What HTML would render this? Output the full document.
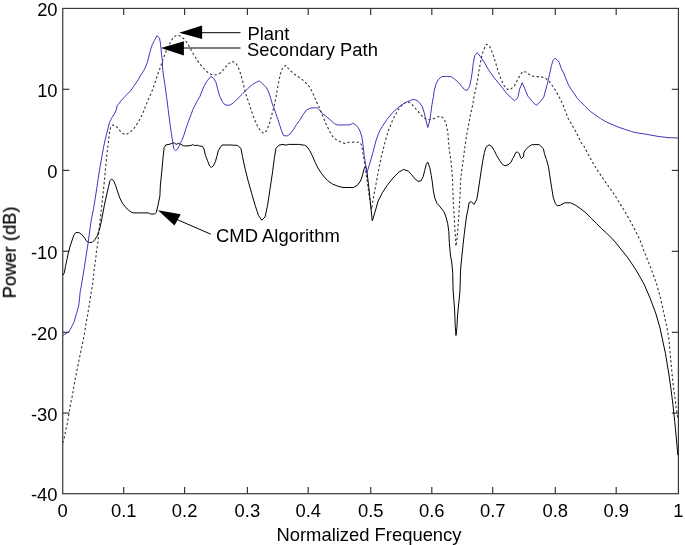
<!DOCTYPE html>
<html><head><meta charset="utf-8"><style>
html,body{margin:0;padding:0;background:#fff;}
svg{display:block;}
text{font-family:"Liberation Sans",sans-serif;font-size:18.4px;fill:#000;}
.t{filter:grayscale(1);}
</style></head><body>
<svg width="685" height="545" viewBox="0 0 685 545">
<rect x="62.74" y="8.42" width="615.66" height="485.28" fill="none" stroke="#383838" stroke-width="1.2"/>
<line x1="123.70" y1="493.7" x2="123.70" y2="487.10" stroke="#383838" stroke-width="1.2"/>
<line x1="123.70" y1="8.42" x2="123.70" y2="15.02" stroke="#383838" stroke-width="1.2"/>
<line x1="184.60" y1="493.7" x2="184.60" y2="487.10" stroke="#383838" stroke-width="1.2"/>
<line x1="184.60" y1="8.42" x2="184.60" y2="15.02" stroke="#383838" stroke-width="1.2"/>
<line x1="247.40" y1="493.7" x2="247.40" y2="487.10" stroke="#383838" stroke-width="1.2"/>
<line x1="247.40" y1="8.42" x2="247.40" y2="15.02" stroke="#383838" stroke-width="1.2"/>
<line x1="308.20" y1="493.7" x2="308.20" y2="487.10" stroke="#383838" stroke-width="1.2"/>
<line x1="308.20" y1="8.42" x2="308.20" y2="15.02" stroke="#383838" stroke-width="1.2"/>
<line x1="370.70" y1="493.7" x2="370.70" y2="487.10" stroke="#383838" stroke-width="1.2"/>
<line x1="370.70" y1="8.42" x2="370.70" y2="15.02" stroke="#383838" stroke-width="1.2"/>
<line x1="431.80" y1="493.7" x2="431.80" y2="487.10" stroke="#383838" stroke-width="1.2"/>
<line x1="431.80" y1="8.42" x2="431.80" y2="15.02" stroke="#383838" stroke-width="1.2"/>
<line x1="492.70" y1="493.7" x2="492.70" y2="487.10" stroke="#383838" stroke-width="1.2"/>
<line x1="492.70" y1="8.42" x2="492.70" y2="15.02" stroke="#383838" stroke-width="1.2"/>
<line x1="555.30" y1="493.7" x2="555.30" y2="487.10" stroke="#383838" stroke-width="1.2"/>
<line x1="555.30" y1="8.42" x2="555.30" y2="15.02" stroke="#383838" stroke-width="1.2"/>
<line x1="616.20" y1="493.7" x2="616.20" y2="487.10" stroke="#383838" stroke-width="1.2"/>
<line x1="616.20" y1="8.42" x2="616.20" y2="15.02" stroke="#383838" stroke-width="1.2"/>
<line x1="62.74" y1="413.10" x2="69.34" y2="413.10" stroke="#383838" stroke-width="1.2"/>
<line x1="678.4" y1="413.10" x2="671.80" y2="413.10" stroke="#383838" stroke-width="1.2"/>
<line x1="62.74" y1="332.30" x2="69.34" y2="332.30" stroke="#383838" stroke-width="1.2"/>
<line x1="678.4" y1="332.30" x2="671.80" y2="332.30" stroke="#383838" stroke-width="1.2"/>
<line x1="62.74" y1="251.30" x2="69.34" y2="251.30" stroke="#383838" stroke-width="1.2"/>
<line x1="678.4" y1="251.30" x2="671.80" y2="251.30" stroke="#383838" stroke-width="1.2"/>
<line x1="62.74" y1="170.40" x2="69.34" y2="170.40" stroke="#383838" stroke-width="1.2"/>
<line x1="678.4" y1="170.40" x2="671.80" y2="170.40" stroke="#383838" stroke-width="1.2"/>
<line x1="62.74" y1="89.30" x2="69.34" y2="89.30" stroke="#383838" stroke-width="1.2"/>
<line x1="678.4" y1="89.30" x2="671.80" y2="89.30" stroke="#383838" stroke-width="1.2"/>
<path d="M62.7,443.0 L64.2,438.1 L66.0,429.0 L67.6,422.0 L68.8,414.3 L69.7,408.8 L71.1,401.4 L72.4,395.5 L75.0,380.0 L79.0,360.0 L83.0,340.9 L84.8,331.7 L86.2,322.5 L87.6,315.2 L88.9,306.9 L90.2,299.0 L91.1,293.1 L92.5,284.9 L93.4,277.5 L94.3,268.3 L95.7,259.2 L96.6,250.0 L97.7,244.9 L98.7,232.8 L100.2,219.9 L101.3,209.3 L102.3,201.1 L103.4,190.8 L104.4,180.6 L105.4,170.3 L106.4,160.0 L107.5,149.1 L108.5,140.8 L109.5,132.6 L110.6,127.5 L113.1,124.9 L115.7,125.9 L118.8,129.5 L121.9,133.1 L125.5,134.7 L129.1,133.1 L133.2,129.5 L136.2,125.4 L139.3,120.3 L142.6,114.0 L145.5,106.2 L148.6,99.1 L151.7,91.9 L154.7,83.6 L157.3,75.4 L160.3,67.6 L163.2,58.8 L165.0,54.0 L167.5,48.0 L169.8,43.4 L172.8,38.3 L176.4,35.3 L178.5,35.2 L180.8,36.4 L184.5,39.4 L187.4,43.4 L190.0,47.8 L191.8,51.5 L194.8,55.9 L197.0,59.9 L199.1,63.2 L203.2,67.8 L207.3,72.0 L211.4,74.5 L215.6,75.0 L219.7,73.5 L223.8,69.4 L227.9,64.2 L232.0,61.4 L235.6,62.7 L238.2,67.3 L240.2,72.5 L242.3,79.7 L243.8,85.8 L245.4,93.0 L247.4,98.5 L249.3,104.0 L251.2,110.3 L254.2,118.5 L257.3,125.7 L260.4,130.8 L263.5,133.4 L266.6,130.8 L269.7,122.6 L272.2,113.4 L274.3,105.1 L275.8,98.2 L277.4,88.9 L278.9,80.7 L280.5,73.5 L282.5,68.4 L285.6,65.3 L288.2,68.4 L292.3,72.5 L296.4,75.6 L300.5,78.1 L304.6,81.7 L308.7,85.8 L311.8,91.0 L314.1,96.0 L316.2,101.2 L318.7,106.3 L321.3,112.5 L323.4,117.6 L325.9,123.8 L328.5,128.9 L331.1,134.1 L333.6,137.7 L337.7,140.7 L344.5,143.4 L349.1,142.3 L354.2,142.1 L359.8,142.3 L361.5,145.0 L364.0,159.0 L367.0,180.0 L369.5,198.0 L371.5,209.4 L374.0,194.5 L376.5,181.3 L379.0,168.0 L381.4,156.5 L384.7,143.3 L388.2,131.1 L392.9,119.4 L398.8,108.8 L403.0,104.0 L407.0,101.8 L410.5,102.9 L415.0,108.0 L419.1,112.6 L423.2,117.2 L427.3,119.8 L432.0,119.3 L436.6,117.2 L440.7,116.2 L444.3,118.8 L446.3,124.9 L447.9,133.2 L448.7,143.4 L449.3,150.0 L450.9,160.3 L451.9,170.6 L452.6,180.8 L452.9,191.1 L453.5,206.0 L454.3,217.0 L454.8,228.0 L455.6,239.0 L455.9,246.2 L457.0,239.0 L457.9,228.0 L458.7,217.0 L459.4,206.0 L460.0,195.0 L460.6,180.8 L461.7,170.6 L463.2,160.3 L464.5,150.0 L466.4,136.2 L468.4,126.0 L470.5,114.7 L472.6,105.4 L474.1,96.2 L475.6,90.0 L477.3,81.2 L479.3,68.9 L481.4,57.6 L483.4,50.4 L486.5,44.2 L489.6,46.3 L492.7,53.5 L495.3,61.7 L497.8,69.9 L499.9,76.1 L501.2,79.7 L504.2,85.8 L507.3,89.4 L510.4,89.4 L514.5,85.8 L518.6,77.6 L522.7,71.4 L525.8,72.0 L529.9,75.0 L534.1,76.6 L540.2,76.6 L545.4,78.1 L549.5,81.7 L554.6,88.9 L558.7,96.1 L562.8,104.3 L568.0,118.0 L576.0,132.0 L581.0,142.3 L584.1,146.4 L587.6,153.4 L591.7,160.6 L595.8,167.7 L599.9,173.9 L604.0,180.0 L614.0,194.0 L624.0,210.0 L632.0,224.0 L640.0,240.0 L644.0,251.0 L650.0,266.0 L656.0,282.0 L660.0,296.0 L664.0,314.0 L667.0,328.0 L669.0,340.0 L670.9,362.0 L673.1,384.0 L674.7,395.6 L676.2,408.0 L677.8,419.0" fill="none" stroke="#333" stroke-width="1.1" stroke-dasharray="2.3,2.3" stroke-linejoin="round"/>
<path d="M62.9,275.2 L64.4,272.7 L65.4,266.7 L66.9,259.8 L68.4,252.8 L69.9,246.9 L71.9,240.9 L73.9,235.0 L75.9,232.5 L78.8,232.5 L81.8,234.5 L84.8,238.4 L86.8,241.4 L89.3,242.4 L92.2,242.4 L94.7,239.9 L97.2,236.0 L98.7,231.5 L99.7,228.8 L101.7,219.9 L102.3,216.0 L104.4,205.2 L106.4,196.0 L108.5,186.7 L110.0,180.6 L111.6,179.0 L113.6,180.6 L115.7,185.7 L117.7,191.9 L119.8,198.0 L122.4,203.2 L126.0,207.8 L130.1,211.4 L133.2,212.9 L141.4,212.9 L148.6,212.9 L150.6,214.0 L154.7,214.0 L156.3,212.4 L157.8,206.2 L159.9,196.0 L160.3,186.0 L161.3,176.2 L162.3,166.0 L163.2,155.7 L164.2,147.5 L165.9,144.9 L169.0,144.4 L172.1,143.4 L174.2,142.8 L176.2,144.4 L178.3,143.4 L180.8,144.4 L183.9,145.9 L188.0,145.9 L191.1,145.4 L192.7,144.6 L194.7,145.6 L197.3,145.2 L199.3,145.9 L202.4,146.4 L204.0,149.0 L205.5,155.7 L207.6,160.8 L209.6,166.0 L211.2,167.5 L213.2,166.0 L215.3,161.9 L216.8,156.7 L218.3,150.6 L219.9,148.0 L222.0,145.0 L230.0,145.0 L237.5,145.4 L240.9,148.4 L242.5,156.7 L245.0,168.4 L248.4,181.8 L251.7,193.5 L255.1,205.2 L258.4,215.2 L261.8,220.2 L265.1,216.9 L267.6,205.2 L270.1,188.5 L272.6,171.8 L274.3,158.4 L276.0,148.4 L278.9,145.2 L283.0,144.4 L286.1,145.2 L288.2,144.4 L298.4,144.4 L304.6,145.2 L307.1,146.7 L309.6,150.3 L312.2,155.4 L315.3,162.6 L318.4,168.8 L322.5,174.9 L327.6,180.6 L332.7,184.2 L337.9,186.2 L343.0,187.5 L353.3,187.5 L357.4,185.2 L360.5,181.1 L362.6,174.9 L364.1,168.8 L365.6,166.2 L366.7,169.8 L367.7,178.0 L368.7,186.2 L369.7,196.0 L370.7,206.1 L372.3,220.9 L374.8,212.7 L378.1,201.1 L382.3,192.8 L387.2,185.4 L393.0,178.0 L398.8,172.2 L403.7,169.4 L408.2,171.1 L411.3,174.2 L414.4,178.3 L418.0,181.3 L421.1,180.8 L423.1,176.7 L424.7,170.6 L426.2,164.4 L427.7,162.1 L429.8,167.5 L431.3,175.7 L432.4,182.9 L433.4,191.1 L434.9,198.3 L437.0,203.4 L439.4,206.0 L443.8,211.5 L446.0,217.0 L447.7,223.6 L448.8,231.3 L449.3,242.3 L450.4,255.0 L451.7,262.0 L452.7,272.3 L453.1,290.0 L454.6,309.8 L455.2,325.3 L456.0,335.5 L456.9,327.7 L457.5,315.8 L458.7,303.8 L459.9,291.9 L460.3,280.0 L460.5,270.3 L461.3,262.0 L462.0,255.0 L463.1,244.5 L464.2,234.6 L465.3,225.8 L466.4,217.0 L468.0,209.3 L469.1,202.7 L471.3,201.6 L474.1,204.4 L476.8,199.4 L478.2,191.0 L479.8,180.2 L481.3,169.9 L482.8,160.7 L484.4,152.5 L485.9,147.3 L489.0,144.8 L491.6,146.3 L494.2,150.4 L496.7,155.6 L499.8,160.7 L502.4,164.3 L504.9,165.8 L508.0,164.8 L511.1,162.2 L512.7,158.6 L514.2,156.1 L515.7,152.5 L517.3,152.0 L519.3,153.5 L520.4,157.1 L521.4,158.6 L523.4,156.6 L524.0,152.0 L526.0,149.4 L528.6,146.8 L531.7,144.8 L534.1,144.6 L539.2,144.6 L543.4,148.7 L544.4,153.4 L546.4,159.5 L548.5,166.7 L549.5,173.9 L550.6,181.1 L551.6,187.3 L553.2,197.2 L555.3,203.4 L557.3,205.9 L560.4,205.2 L564.5,202.8 L570.7,202.8 L575.8,205.4 L581.0,209.0 L586.1,213.1 L591.2,218.3 L596.4,223.4 L601.5,228.5 L606.7,233.2 L611.8,238.3 L616.0,243.0 L620.0,248.0 L628.0,258.0 L636.0,270.0 L644.0,284.0 L650.0,298.0 L656.0,314.0 L660.0,328.0 L663.0,342.0 L665.4,353.2 L668.7,373.0 L670.9,388.4 L673.1,406.0 L674.7,421.4 L676.4,439.0 L677.8,455.0" fill="none" stroke="#000" stroke-width="1" stroke-linejoin="round"/>
<path d="M62.8,335.4 L65.1,334.0 L68.3,332.2 L70.6,329.0 L72.4,325.3 L74.3,321.6 L75.2,317.9 L76.6,313.3 L77.9,308.8 L78.9,304.2 L79.6,298.0 L80.1,292.2 L81.5,284.9 L82.8,276.6 L84.2,268.3 L85.6,259.2 L87.0,250.0 L88.3,241.7 L89.8,229.8 L91.3,219.9 L93.6,208.3 L95.1,199.1 L96.7,188.8 L98.2,178.5 L99.8,168.2 L101.3,160.0 L103.4,148.0 L104.9,140.8 L106.4,134.7 L108.0,128.5 L109.5,122.3 L111.6,118.2 L114.2,114.1 L116.2,110.0 L117.2,105.7 L120.8,101.1 L124.9,96.5 L130.1,91.3 L134.2,85.7 L138.3,79.5 L140.9,74.9 L143.4,71.3 L145.5,67.2 L147.6,61.5 L150.7,49.3 L152.2,44.9 L154.4,40.5 L157.0,35.7 L159.5,38.3 L160.6,44.2 L161.0,48.6 L161.7,55.9 L162.5,61.0 L162.4,66.0 L163.2,73.2 L164.9,84.8 L166.5,96.3 L168.2,109.5 L169.8,122.7 L171.5,134.3 L172.4,140.0 L173.1,144.2 L173.6,148.5 L175.7,150.6 L177.7,149.0 L179.8,144.4 L181.9,140.3 L183.9,135.1 L185.5,130.0 L188.0,122.7 L192.9,109.5 L197.0,101.3 L200.0,96.3 L201.2,93.0 L204.2,85.8 L207.3,80.7 L210.9,76.4 L213.5,78.1 L216.1,82.7 L217.6,88.9 L219.7,96.1 L222.2,101.2 L224.8,104.8 L228.9,105.4 L233.0,103.3 L237.1,99.2 L242.3,94.1 L247.4,88.9 L252.6,84.3 L256.3,82.2 L259.3,80.9 L262.5,83.8 L266.6,87.9 L268.6,92.0 L270.7,98.2 L272.7,105.4 L273.3,106.2 L275.8,113.4 L277.9,119.5 L279.9,125.7 L281.5,130.8 L283.5,135.5 L287.1,136.0 L290.2,133.9 L293.3,129.8 L296.4,124.7 L299.5,120.6 L302.6,115.4 L306.7,109.8 L310.8,108.0 L317.2,107.8 L320.3,110.9 L322.3,113.5 L326.4,116.6 L330.6,120.2 L334.7,123.8 L337.7,125.0 L343.9,125.0 L350.1,124.8 L352.7,123.3 L355.7,124.8 L358.3,127.9 L360.4,132.0 L361.9,137.1 L362.9,144.3 L364.1,154.9 L366.9,173.0 L369.9,163.1 L373.2,151.6 L375.8,141.2 L378.3,134.1 L379.9,130.5 L382.3,126.4 L387.0,119.4 L392.9,112.3 L398.8,107.0 L404.7,102.9 L410.5,100.3 L414.1,99.4 L417.0,100.5 L419.1,102.3 L422.2,106.4 L424.2,112.6 L425.8,119.8 L427.8,127.5 L429.9,119.8 L430.9,112.6 L432.0,104.4 L433.5,96.2 L434.1,91.0 L436.2,83.3 L438.7,79.2 L441.8,76.6 L446.4,76.4 L451.1,76.6 L454.7,79.2 L458.3,82.3 L461.3,85.9 L464.4,89.5 L467.0,90.5 L469.6,86.4 L471.1,79.2 L472.1,73.0 L473.2,63.8 L474.7,55.6 L477.3,52.7 L480.4,56.6 L484.5,62.7 L488.6,69.9 L493.7,77.1 L499.1,83.8 L503.2,88.9 L506.3,93.0 L510.4,97.1 L514.5,100.7 L517.6,98.2 L519.7,88.9 L522.2,82.7 L524.8,88.9 L527.9,96.1 L532.0,101.2 L536.1,105.4 L540.2,101.8 L543.8,97.1 L545.4,91.0 L547.4,83.8 L549.5,74.5 L551.5,65.3 L553.1,60.3 L555.1,58.2 L557.2,59.8 L559.2,62.3 L561.3,68.5 L563.9,73.6 L565.9,78.8 L568.5,84.9 L571.6,90.1 L574.7,94.2 L577.2,98.3 L580.8,101.9 L585.1,106.3 L590.3,111.4 L595.4,115.0 L600.6,118.6 L606.7,122.2 L612.9,124.8 L619.1,127.4 L625.2,129.4 L631.4,131.5 L637.6,133.0 L643.7,133.8 L658.0,136.4 L668.0,137.6 L678.0,138.0" fill="none" stroke="#4038bc" stroke-width="1.0" stroke-linejoin="round"/>
<polygon points="179.2,32.7 202.1,25.5 202.1,38.9" fill="#000"/>
<line x1="202" y1="32.7" x2="240.5" y2="32.7" stroke="#000" stroke-width="1"/>
<polygon points="161,48 183.9,41.2 183.9,55.5" fill="#000"/>
<line x1="183" y1="48" x2="240.5" y2="48" stroke="#000" stroke-width="1"/>
<polygon points="158,210.2 180.7,214.3 174.5,225.5" fill="#000"/>
<line x1="177" y1="219.5" x2="210.8" y2="234.2" stroke="#000" stroke-width="1"/>
<g class="t">
<text x="62.74" y="517" text-anchor="middle">0</text>
<text x="123.70" y="517" text-anchor="middle">0.1</text>
<text x="184.60" y="517" text-anchor="middle">0.2</text>
<text x="247.40" y="517" text-anchor="middle">0.3</text>
<text x="308.20" y="517" text-anchor="middle">0.4</text>
<text x="370.70" y="517" text-anchor="middle">0.5</text>
<text x="431.80" y="517" text-anchor="middle">0.6</text>
<text x="492.70" y="517" text-anchor="middle">0.7</text>
<text x="555.30" y="517" text-anchor="middle">0.8</text>
<text x="616.20" y="517" text-anchor="middle">0.9</text>
<text x="678.40" y="517" text-anchor="middle">1</text>
<text x="57.6" y="501.30" text-anchor="end">-40</text>
<text x="57.6" y="420.70" text-anchor="end">-30</text>
<text x="57.6" y="339.90" text-anchor="end">-20</text>
<text x="57.6" y="258.90" text-anchor="end">-10</text>
<text x="57.6" y="178.00" text-anchor="end">0</text>
<text x="57.6" y="96.90" text-anchor="end">10</text>
<text x="57.6" y="16.02" text-anchor="end">20</text>
<text x="247.5" y="40.1">Plant</text>
<text x="247" y="55.7">Secondary Path</text>
<text x="216.1" y="241.5">CMD Algorithm</text>
<text x="369" y="540.7" text-anchor="middle">Normalized Frequency</text>
<text transform="translate(15.8,252.4) rotate(-90)" text-anchor="middle" stroke="#000" stroke-width="0.2">Power (dB)</text>
</g>
</svg>
</body></html>
